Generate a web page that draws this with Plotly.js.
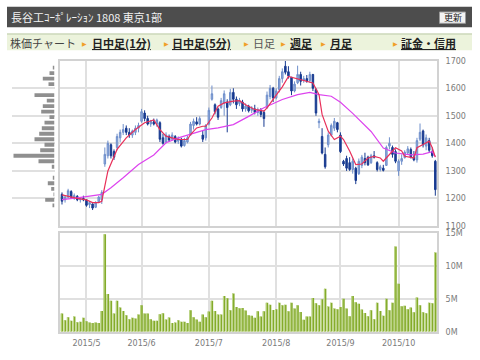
<!DOCTYPE html>
<html><head><meta charset="utf-8">
<script src="https://cdn.plot.ly/plotly-3.0.1.min.js"></script>
<style>html,body{margin:0;padding:0;background:#fff}#chart{width:480px;height:360px}</style>
</head><body><div id="chart"></div>
<script>
// ---- data ----
// trading-day index 0 = 2015/4/20 ... 122 = 2015/10/20
const openP  = [1215,1195,1205,1225,1205,1208,1195,1200,1195,1178,1180,1168,1188,1195,1325,1355,1395,1370,1385,1420,
                1440,1455,1440,1430,1440,1455,1480,1510,1490,1470,1478,1470,1475,1420,1405,1425,1415,1425,1408,1415,
                1392,1405,1430,1465,1478,1470,1430,1420,1470,1560,1540,1525,1530,1545,1550,1540,1585,1560,1545,1550,
                1525,1535,1520,1525,1512,1520,1512,1530,1570,1600,1565,1595,1635,1680,1660,1640,1590,1620,1650,1628,
                1635,1628,1650,1595,1475,1425,1360,1395,1430,1455,1475,1430,1335,1345,1330,1305,1310,1290,1320,1345,
                1350,1330,1355,1330,1305,1310,1320,1390,1385,1370,1300,1335,1348,1365,1378,1350,1340,1415,1445,1390,
                1410,1370,1335];
const highP  = [1222,1210,1235,1230,1218,1212,1205,1210,1198,1190,1182,1190,1210,1230,1385,1410,1400,1378,1435,1450,
                1470,1465,1455,1450,1465,1475,1525,1520,1500,1485,1490,1490,1480,1435,1440,1432,1440,1430,1425,1420,
                1420,1428,1478,1490,1495,1498,1445,1470,1530,1610,1545,1530,1565,1592,1560,1598,1600,1570,1565,1558,
                1545,1540,1535,1540,1530,1528,1520,1588,1612,1605,1600,1645,1672,1702,1680,1640,1625,1682,1660,1645,
                1648,1660,1652,1600,1490,1455,1385,1440,1472,1492,1478,1440,1340,1355,1350,1345,1315,1345,1358,1366,
                1355,1362,1372,1335,1322,1322,1392,1422,1392,1378,1342,1360,1375,1390,1385,1372,1420,1472,1450,1432,
                1420,1385,1340];
const lowP   = [1178,1185,1200,1200,1195,1190,1185,1190,1170,1165,1158,1165,1185,1180,1315,1345,1345,1340,1375,1405,
                1430,1430,1420,1420,1430,1440,1475,1480,1465,1460,1465,1460,1405,1395,1400,1405,1410,1400,1398,1385,
                1388,1400,1428,1450,1465,1465,1405,1410,1465,1555,1505,1485,1525,1500,1440,1535,1545,1525,1535,1515,
                1515,1512,1510,1505,1500,1495,1460,1525,1560,1550,1560,1585,1620,1650,1635,1575,1585,1615,1610,1620,
                1620,1620,1590,1500,1455,1360,1308,1385,1425,1445,1440,1365,1318,1300,1300,1290,1252,1285,1310,1320,
                1318,1325,1345,1298,1298,1298,1318,1378,1348,1328,1282,1322,1345,1358,1345,1335,1330,1408,1385,1375,
                1365,1348,1210];
const closeP = [1190,1205,1228,1205,1210,1195,1200,1195,1175,1185,1165,1185,1205,1222,1360,1400,1355,1350,1425,1440,
                1450,1440,1430,1445,1455,1465,1515,1490,1470,1480,1470,1485,1415,1400,1430,1412,1430,1405,1418,1390,
                1410,1420,1470,1480,1470,1490,1415,1465,1520,1580,1515,1495,1555,1580,1530,1585,1560,1540,1555,1525,
                1535,1518,1528,1512,1522,1505,1490,1575,1600,1565,1590,1635,1660,1658,1645,1590,1615,1650,1625,1635,
                1625,1650,1600,1510,1480,1365,1315,1430,1465,1480,1450,1370,1325,1310,1305,1335,1265,1335,1350,1330,
                1322,1355,1350,1305,1315,1302,1385,1400,1360,1335,1335,1345,1368,1380,1350,1340,1410,1440,1395,1420,
                1375,1355,1232];
// volume in millions of shares
const volumeM = [2.75,1.75,2.2,1.65,2.3,1.45,1.5,2.1,1.6,1.4,1.3,1.4,1.3,3.15,14.75,5.7,4.7,2.75,4.7,3.65,
                 3.15,2.5,1.9,2.1,2.0,2.6,4.0,2.75,2.75,1.9,1.65,1.65,2.65,2.8,1.85,2.15,1.3,1.4,1.75,1.5,
                 1.5,1.3,3.25,2.2,1.85,1.5,2.6,2.2,3.05,4.7,3.15,2.6,2.6,5.4,5.05,3.25,5.8,3.75,3.55,3.6,
                 3.2,2.5,2.4,2.1,3.1,2.3,3.1,4.4,4.1,3.3,3.4,4.4,4.0,4.1,3.1,4.4,3.5,4.0,3.0,1.8,
                 2.3,2.3,5.1,4.3,4.0,4.9,6.5,3.8,4.4,3.5,3.4,3.75,5.0,3.5,2.35,5.4,4.45,4.25,3.35,2.85,
                 2.35,3.25,1.9,4.4,3.15,2.4,5.0,3.25,4.4,12.9,7.25,3.85,3.95,3.4,3.65,2.95,5.2,4.0,2.95,2.8,
                 4.4,4.3,12.0];
// short moving average (red), read at sample days
const maShortDay = [0,3,5,8,10,12,13,15,18,21,24,27,30,32,34,36,38,41,42,44,46,47,49,51,53,56,58,60,61,63,66,67,70,72,74,76,78,80,82,84,85,87,89,91,92,94,96,98,100,102,104,105,107,109,111,112,115,116,118,120,121,122];
const maShortVal = [1213,1205,1200,1195,1185,1185,1190,1300,1378,1420,1450,1475,1485,1450,1426,1420,1414,1414,1432,1456,1462,1462,1492,1535,1547,1553,1555,1540,1535,1523,1517,1529,1575,1605,1643,1637,1632,1625,1619,1577,1505,1444,1414,1426,1414,1372,1323,1325,1347,1353,1347,1335,1360,1384,1372,1353,1347,1384,1396,1408,1384,1350];
// long moving average (magenta), read at sample days
const maLongDay = [0,5,13,16,20,25,30,34,38,43,47,51,56,61,66,72,77,81,84,88,91,95,101,105,109,114,118,121,122];
const maLongVal = [1196,1202,1215,1239,1275,1323,1358,1402,1420,1438,1450,1456,1468,1498,1529,1559,1577,1585,1577,1571,1549,1509,1443,1383,1365,1358,1361,1370,1352];
// price-band volume profile (relative units)
const profilePrice = [1675,1655,1635,1615,1595,1575,1555,1535,1515,1495,1475,1455,1435,1415,1395,1375,1355,1335,1315,1295,1275,1255,1235,1215,1195,1175];
const profileVol   = [1.7,5,11.7,6,0,20,7.7,11.7,13.3,5,10,12.7,15.3,20,10,14.3,41,16,2.7,0,1.7,6.7,3.3,1,9.3,2];
// month ticks
const monthTickDay  = [8,26,48,70,91,110];
const monthTickText = ['2015/5','2015/6','2015/7','2015/8','2015/9','2015/10'];
const priceTicks = [1100,1200,1300,1400,1500,1600,1700];
const volTicksM = [0,5,10,15];
const volTickText = ['0M','5M','10M','15M'];

// ---- build ----
const days = closeP.map((_, i) => i);
const volume = volumeM.map(v => v * 1e6);
const W = 480, H = 360;
const px = x => x / W, py = y => 1 - y / H;

const traces = [
  { type:'bar', orientation:'h', x: profileVol, y: profilePrice, xaxis:'x3', yaxis:'y',
    width: 14, marker:{color:'#8f8f8f', line:{width:0}}, hoverinfo:'skip' },
  { type:'candlestick', x: days, open: openP, high: highP, low: lowP, close: closeP, xaxis:'x', yaxis:'y',
    increasing:{line:{color:'#6f8fcb', width:1}, fillcolor:'#93acdc'},
    decreasing:{line:{color:'#173a90', width:1}, fillcolor:'#173a90'},
    whiskerwidth:0, hoverinfo:'skip' },
  { type:'scatter', mode:'lines', x: maLongDay, y: maLongVal, xaxis:'x', yaxis:'y',
    line:{color:'#dd44ee', width:1.2}, hoverinfo:'skip' },
  { type:'scatter', mode:'lines', x: maShortDay, y: maShortVal, xaxis:'x', yaxis:'y',
    line:{color:'#e8305a', width:1.2}, hoverinfo:'skip' },
  { type:'bar', x: days, y: volume, xaxis:'x2', yaxis:'y2', width:0.8,
    marker:{color:'#84ab2a', line:{width:0}}, hoverinfo:'skip' },
  { type:'bar', x: days, y: volume, xaxis:'x2', yaxis:'y2', width:0.3, offset:-0.4,
    marker:{color:'#c4db93', line:{width:0}}, hoverinfo:'skip' }
];

const grid = '#e0e0e0', frame = '#d2d2d2';
const tickFont = {family:'DejaVu Sans', size:8, color:'#7a7a7a'};
const xr = [-0.65, 122.55];
const layout = {
  width: W, height: H, margin:{l:0,r:0,t:0,b:0}, showlegend:false,
  paper_bgcolor:'#fff', plot_bgcolor:'#fff', barmode:'overlay', dragmode:false,
  xaxis:{domain:[px(60), px(437)], anchor:'y', range: xr, rangeslider:{visible:false},
    tickvals: monthTickDay, showticklabels:false, ticks:'', showgrid:true, gridcolor:grid, gridwidth:2,
    showline:true, mirror:true, linecolor:frame, linewidth:2, zeroline:false, fixedrange:true},
  yaxis:{domain:[py(226), py(60.7)], anchor:'x', range:[1100,1700], side:'right',
    tickvals: priceTicks, ticks:'', tickfont: tickFont, ticklabelstandoff:5,
    showgrid:true, gridcolor:grid, gridwidth:2, showline:true, mirror:true, linecolor:frame, linewidth:2,
    zeroline:false, fixedrange:true},
  xaxis2:{domain:[px(60), px(437)], anchor:'y2', range: xr, matches:'x',
    tickvals: monthTickDay, ticktext: monthTickText, ticks:'', tickfont: tickFont, ticklabelstandoff:3,
    showgrid:true, gridcolor:grid, gridwidth:2, showline:true, mirror:true, linecolor:frame, linewidth:2,
    zeroline:false, fixedrange:true},
  yaxis2:{domain:[py(331.7), py(232.7)], anchor:'x2', range:[0,15e6], side:'right',
    tickvals: volTicksM.map(v=>v*1e6), ticktext: volTickText, ticks:'', tickfont: tickFont, ticklabelstandoff:5,
    showgrid:true, gridcolor:grid, gridwidth:2, showline:true, mirror:true, linecolor:frame, linewidth:2,
    zeroline:false, fixedrange:true},
  xaxis3:{domain:[px(12), px(54.5)], anchor:'y', range:[42.5,0], visible:false, fixedrange:true},
  shapes:[
    {type:'rect', xref:'paper', yref:'paper', x0:px(7), x1:px(472), y0:py(27.3), y1:py(6.7),
      fillcolor:'#4d4d4d', line:{width:0}, layer:'below'},
    {type:'rect', xref:'paper', yref:'paper', x0:px(439.5), x1:px(465.5), y0:py(23.3), y1:py(12),
      fillcolor:'#f3f3f3', line:{color:'#9a9a9a', width:1}},
    {type:'rect', xref:'paper', yref:'paper', x0:px(7), x1:px(472), y0:py(50.3), y1:py(33.7),
      fillcolor:'#ecf3dc', line:{width:0}, layer:'below'},
    {type:'line', xref:'paper', yref:'paper', x0:px(7), x1:px(472), y0:py(34), y1:py(34),
      line:{color:'#cdd8bb', width:1.5}}
  ],
  annotations: []
};

const cjk = '"Noto Sans CJK JP", "Noto Sans", sans-serif';
function ann(text, x, y, opts) {
  layout.annotations.push(Object.assign({text, xref:'paper', yref:'paper', x:px(x), y:py(y),
    xanchor:'left', yanchor:'middle', showarrow:false}, opts));
}
ann('長谷工ｺｰﾎﾟﾚｰｼｮﾝ 1808 東京1部', 9, 17, {font:{family:cjk, size:11, color:'#f2f2f2'}});
ann('更新', 452.5, 17.7, {xanchor:'center', font:{family:cjk, size:9, color:'#222'}});
ann('株価チャート', 8, 43, {font:{family:cjk, size:11, color:'#444'}});
const navItems = [['日中足(1分)',90,true],['日中足(5分)',170,true],['日足',250.5,false],['週足',288,true],['月足',327.5,true],['証金・信用',398.5,true]];
const arrowX = [82.7,164,244,281.7,321.7,393];
navItems.forEach((n, k) => {
  ann('▶', arrowX[k]-2.5, 43, {font:{family:'DejaVu Sans', size:6, color:'#f0a028'}});
  ann(n[2] ? '<b>'+n[0]+'</b>' : n[0], n[1], 43,
    {font:{family:cjk, size:11, color: n[2] ? '#222' : '#555', lineposition: n[2] ? 'under' : 'none'}});
});

Plotly.newPlot('chart', traces, layout, {displayModeBar:false, staticPlot:true});
</script>
</body></html>
